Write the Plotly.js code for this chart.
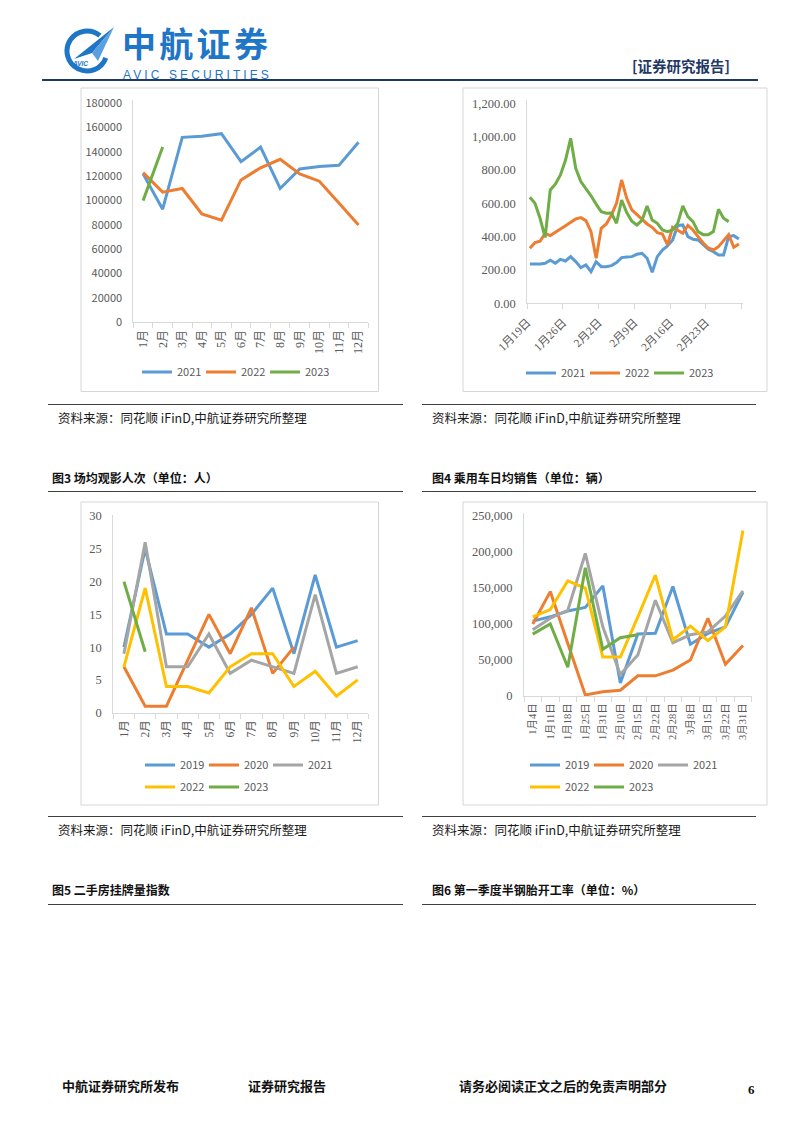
<!DOCTYPE html>
<html lang="zh">
<head>
<meta charset="utf-8">
<script src="https://cdn.plot.ly/plotly-3.0.1.min.js"></script>
<style>
html,body{margin:0;padding:0;background:#ffffff;}
#page{position:relative;width:802px;height:1133px;overflow:hidden;background:#fff;}
#chart{position:absolute;left:0;top:0;width:802px;height:1133px;}
.txt{position:absolute;white-space:nowrap;line-height:1;font-family:"Noto Sans CJK SC","Noto Sans",sans-serif;color:#111;}
.rule{position:absolute;height:1.5px;background:#3f3f3f;}
.src{font-size:12.5px;font-weight:400;color:#1a1a1a;}
.cap{font-size:12px;font-weight:700;color:#111;}
.foot{font-size:13px;font-weight:700;color:#111;}
</style>
</head>
<body>
<div id="page">
<div id="chart"></div>

<svg style="position:absolute;left:63px;top:26px;" width="52" height="50" viewBox="0 0 52 50">
  <path d="M36.9,9.7 A20,20 0 1 0 42.8,31.8" fill="none" stroke="#1F75C6" stroke-width="5"/>
  <polygon points="11,33 51,1 29,27" fill="#1F75C6"/>
  <polygon points="29,27 51,1 35,35" fill="#5AA0E0"/>
  <text x="10" y="40" font-size="6.5" font-weight="700" font-style="italic" fill="#1F75C6" font-family="Liberation Sans, sans-serif">AVIC</text>
</svg>
<div class="txt" style="left:122px;top:26px;font-size:34px;line-height:34px;font-weight:700;color:#1F75C6;letter-spacing:3.3px;">中航证券</div>
<div class="txt" style="left:123px;top:68.5px;font-size:12px;line-height:12px;letter-spacing:3.1px;color:#1F75C6;font-family:'Liberation Sans',Arial,sans-serif;">AVIC SECURITIES</div>
<div class="txt" style="left:632px;top:59px;font-size:14.5px;font-weight:700;color:#1F3864;">[证券研究报告]</div>
<div style="position:absolute;left:42px;top:79px;width:716px;height:2px;background:#1F3864;"></div>

<div class="rule" style="left:48px;width:355px;top:403.5px;"></div>
<div class="rule" style="left:422px;width:334px;top:403.5px;"></div>
<div class="txt src" style="left:58px;top:411.5px;">资料来源：同花顺 iFinD,中航证券研究所整理</div>
<div class="txt src" style="left:432px;top:411.5px;">资料来源：同花顺 iFinD,中航证券研究所整理</div>
<div class="txt cap" style="left:52px;top:472px;">图3 场均观影人次（单位：人）</div>
<div class="txt cap" style="left:432px;top:472px;">图4 乘用车日均销售（单位：辆）</div>
<div class="rule" style="left:48px;width:355px;top:490.5px;"></div>
<div class="rule" style="left:422px;width:334px;top:490.5px;"></div>

<div class="rule" style="left:48px;width:355px;top:815.5px;"></div>
<div class="rule" style="left:422px;width:334px;top:815.5px;"></div>
<div class="txt src" style="left:58px;top:823.5px;">资料来源：同花顺 iFinD,中航证券研究所整理</div>
<div class="txt src" style="left:432px;top:823.5px;">资料来源：同花顺 iFinD,中航证券研究所整理</div>
<div class="txt cap" style="left:52px;top:884px;">图5 二手房挂牌量指数</div>
<div class="txt cap" style="left:432px;top:884px;">图6 第一季度半钢胎开工率（单位：%）</div>
<div class="rule" style="left:48px;width:355px;top:903.5px;"></div>
<div class="rule" style="left:422px;width:334px;top:903.5px;"></div>

<div class="txt foot" style="left:62px;top:1078.5px;">中航证券研究所发布</div>
<div class="txt foot" style="left:248px;top:1078.5px;">证券研究报告</div>
<div class="txt foot" style="left:459px;top:1078.5px;">请务必阅读正文之后的免责声明部分</div>
<div class="txt foot" style="left:748px;top:1083px;font-family:'Liberation Serif',serif;">6</div>
</div>

<script>
// ---------- data ----------
const months = ['1月','2月','3月','4月','5月','6月','7月','8月','9月','10月','11月','12月'];
const a2021 = [122000, 93000, 152000, 153000, 155000, 132000, 144000, 110000, 126000, 128000, 129000, 148000];
const a2022 = [123000, 107000, 110000, 89000, 84000, 117000, 127000, 134000, 122000, 116000, 98000, 80000];
const a2023 = [100000, 144000];

const dayLabels = ['1月19日','1月20日','1月21日','1月22日','1月23日','1月24日','1月25日','1月26日','1月27日','1月28日','1月29日','1月30日','1月31日',
  '2月1日','2月2日','2月3日','2月4日','2月5日','2月6日','2月7日','2月8日','2月9日','2月10日','2月11日','2月12日','2月13日','2月14日',
  '2月15日','2月16日','2月17日','2月18日','2月19日','2月20日','2月21日','2月22日','2月23日','2月24日','2月25日','2月26日','2月27日','2月28日','3月1日'];
const b2021 = [236,234,236,240,258,240,264,254,280,250,214,230,190,250,220,220,226,244,274,278,280,294,300,270,186,280,320,344,380,466,470,400,384,380,354,324,310,290,290,400,406,386];
const b2022 = [330,364,372,420,406,428,446,466,488,506,514,496,430,270,450,476,530,600,740,630,560,530,500,476,456,424,416,350,456,440,420,468,440,400,362,332,320,340,376,412,336,356];
const b2023 = [636,600,510,395,680,715,770,860,990,810,730,690,645,595,550,540,542,480,620,545,492,470,498,584,500,480,440,430,440,480,584,520,490,430,412,412,430,564,510,490];

const c2019 = [10, 25, 12, 12, 10, 12, 15, 19, 9, 21, 10, 11];
const c2020 = [7, 1, 1, 8, 15, 9, 16, 6, 10];
const c2021 = [9, 26, 7, 7, 12, 6, 8, 7, 6, 18, 6, 7];
const c2022 = [7, 19, 4, 4, 3, 7, 9, 9, 4, 6.3, 2.5, 5];
const c2023 = [20, 9.3];

const weekLabels = ['1月4日','1月11日','1月18日','1月25日','1月31日','2月10日','2月15日','2月22日','2月28日','3月8日','3月15日','3月22日','3月31日'];
const d2019 = [104000, 110000, 118000, 123000, 153000, 18000, 86000, 87000, 152000, 72000, 87000, 96000, 144000];
const d2020 = [100000, 145000, 73000, 1500, 6000, 8000, 28000, 28000, 36000, 50000, 108000, 44000, 70000];
const d2021 = [92000, 108000, 119000, 198000, 96000, 30000, 57000, 133000, 74000, 85000, 89000, 111000, 146000];
const d2022 = [110000, 120000, 160000, 150000, 54000, 54000, 110000, 168000, 78000, 97000, 77000, 96000, 230000];
const d2023 = [86000, 100000, 40000, 178000, 65000, 81000, 85000];

// ---------- style ----------
const BLUE='#5B9BD5', ORANGE='#ED7D31', GRAY='#A5A5A5', YELLOW='#FFC000', GREEN='#70AD47';
const SANS='"Noto Sans CJK SC","Noto Sans",sans-serif';
const SERIF='"Liberation Serif","Noto Sans CJK SC",serif';
const W=802, H=1133;
const px = v => v/W;
const py = v => 1 - v/H;
const LW = 3;

function ln(x, y, name, color, xa, ya, legend){
  return {type:'scatter', mode:'lines', x:x, y:y, name:name, xaxis:xa, yaxis:ya, legend:legend,
          line:{color:color, width:LW}, hoverinfo:'skip'};
}
const dayIdx = dayLabels.map((d,i)=>i);

const traces = [
  ln(months, a2021, '2021', BLUE, 'x', 'y', 'legend'),
  ln(months, a2022, '2022', ORANGE, 'x', 'y', 'legend'),
  ln(months.slice(0, a2023.length), a2023, '2023', GREEN, 'x', 'y', 'legend'),

  ln(dayIdx, b2021, '2021', BLUE, 'x2', 'y2', 'legend2'),
  ln(dayIdx, b2022, '2022', ORANGE, 'x2', 'y2', 'legend2'),
  ln(dayIdx.slice(0, b2023.length), b2023, '2023', GREEN, 'x2', 'y2', 'legend2'),

  ln(months, c2019, '2019', BLUE, 'x3', 'y3', 'legend3'),
  ln(months.slice(0, c2020.length), c2020, '2020', ORANGE, 'x3', 'y3', 'legend3'),
  ln(months, c2021, '2021', GRAY, 'x3', 'y3', 'legend3'),
  ln(months, c2022, '2022', YELLOW, 'x3', 'y3', 'legend4'),
  ln(months.slice(0, c2023.length), c2023, '2023', GREEN, 'x3', 'y3', 'legend4'),

  ln(weekLabels, d2019, '2019', BLUE, 'x4', 'y4', 'legend5'),
  ln(weekLabels, d2020, '2020', ORANGE, 'x4', 'y4', 'legend5'),
  ln(weekLabels, d2021, '2021', GRAY, 'x4', 'y4', 'legend5'),
  ln(weekLabels, d2022, '2022', YELLOW, 'x4', 'y4', 'legend6'),
  ln(weekLabels.slice(0, d2023.length), d2023, '2023', GREEN, 'x4', 'y4', 'legend6')
];

const AXC='#D9D9D9', TXC='#595959';
function catX(domain, n, anchor, fsize){
  return {domain:domain, anchor:anchor, type:'category', range:[-0.5, n-0.5],
    showline:true, linecolor:AXC, linewidth:1, ticks:'outside', ticklen:5, tickcolor:AXC, tickwidth:1,
    tickson:'boundaries', tickangle:-90, tickfont:{family:SERIF, size:fsize, color:TXC},
    showgrid:false, zeroline:false, fixedrange:true, ticklabelstandoff:2};
}
function valY(domain, range, dtick, fmt, font, anchor){
  return {domain:domain, anchor:anchor, range:range, dtick:dtick, tick0:0, tickformat:fmt,
    showline:true, linecolor:AXC, linewidth:1, ticks:'', showgrid:false, zeroline:false,
    tickfont:font, fixedrange:true, ticklabelstandoff:8};
}
function leg(x, y){
  return {orientation:'h', x:px(x), y:py(y), xanchor:'left', yanchor:'middle',
    font:{family:SANS, size:11, color:TXC}, bgcolor:'rgba(0,0,0,0)', borderwidth:0,
    entrywidth:19, itemwidth:30, traceorder:'normal'};
}

const weekTickVals = [], weekTickText = [];
for (let i = 0; i <= dayLabels.length; i += 7) {
  weekTickVals.push(i - 0.5);
  weekTickText.push(i < dayLabels.length ? dayLabels[i] : '');
}

function frame(x0, x1, y0, y1){
  return {type:'rect', xref:'paper', yref:'paper', x0:px(x0), x1:px(x1), y0:py(y0), y1:py(y1),
          line:{color:'#D6D6D6', width:1}, fillcolor:'rgba(0,0,0,0)', layer:'below'};
}

const layout = {
  width:W, height:H, margin:{l:0, r:0, t:0, b:0},
  paper_bgcolor:'rgba(0,0,0,0)', plot_bgcolor:'rgba(0,0,0,0)',
  showlegend:true, hovermode:false,
  font:{family:SANS, color:TXC},

  xaxis: catX([px(133.3), px(368.3)], 12, 'y', 12),
  yaxis: valY([py(322.3), py(100)], [0, 180000*222.3/219], 20000, 'd', {family:SANS, size:11, color:TXC}, 'x'),

  xaxis2: {domain:[px(527.3), px(742.7)], anchor:'y2', range:[-0.5, 41.75],
    tickmode:'array', tickvals:weekTickVals, ticktext:weekTickText,
    showline:true, linecolor:AXC, linewidth:1, ticks:'outside', ticklen:5, tickcolor:AXC,
    tickangle:-45, tickfont:{family:SERIF, size:11.5, color:TXC}, showgrid:false, zeroline:false,
    fixedrange:true, ticklabelstandoff:2},
  yaxis2: valY([py(303.3), py(100)], [0, 1200*203.3/200], 200, ',.2f', {family:SERIF, size:12.5, color:TXC}, 'x2'),

  xaxis3: catX([px(113.3), px(368.3)], 12, 'y3', 11.5),
  yaxis3: valY([py(712.7), py(515)], [0, 30*197.7/196.7], 5, 'd', {family:SERIF, size:12.5, color:TXC}, 'x3'),

  xaxis4: catX([px(524), px(751.7)], 13, 'y4', 10.5),
  yaxis4: valY([py(696), py(513)], [0, 250000*183/180], 50000, ',d', {family:SERIF, size:12.5, color:TXC}, 'x4'),

  legend: leg(137, 372),
  legend2: leg(521, 373),
  legend3: leg(140, 765),
  legend4: leg(140, 787),
  legend5: leg(525, 765),
  legend6: leg(525, 787),

  shapes: [
    frame(81, 378.5, 88, 391.5),
    frame(463, 767, 88, 391.5),
    frame(81, 378.5, 502, 805),
    frame(463, 767, 502, 805)
  ]
};

Plotly.newPlot('chart', traces, layout, {staticPlot:true, displayModeBar:false});
</script>
</body>
</html>
